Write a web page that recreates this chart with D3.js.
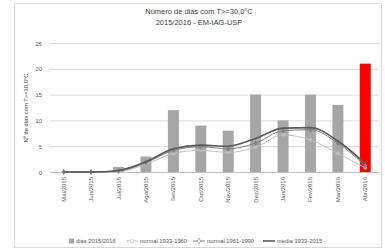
<!DOCTYPE html>
<html>
<head>
<meta charset="utf-8">
<script src="https://cdn.jsdelivr.net/npm/d3@7"></script>
<style>
  body { margin: 0; background: #fff; }
  svg { font-family: "Liberation Sans", Arial, sans-serif; }
</style>
</head>
<body>
<svg width="385" height="252"></svg>
<script>
// data
const months = ["Mai/2015", "Jun/2015", "Jul/2015", "Ago/2015", "Set/2015", "Out/2015",
  "Nov/2015", "Dez/2015", "Jan/2016", "Fev/2016", "Mar/2016", "Abr/2016"];
const dias = [0, 0, 1, 3, 12, 9, 8, 15, 10, 15, 13, 21];
const normal3360 = [0, 0, 0.1, 1.5, 3.6, 4.2, 3.8, 4.8, 7.2, 6.2, 3.6, 0.8];
const normal6190 = [0, 0, 0.2, 1.8, 4.2, 4.9, 4.5, 5.6, 8.0, 8.2, 5.6, 1.2];
const media = [0, 0, 0.3, 2.0, 4.5, 5.2, 5.0, 6.5, 8.5, 8.6, 6.0, 1.6];
const yTicks = [0, 5, 10, 15, 20, 25];

const svg = d3.select("svg");

// chart border
svg.append("rect").attr("x", 14.5).attr("y", 3.5).attr("width", 367).attr("height", 244)
  .attr("fill", "#fff").attr("stroke", "#d9d9d9");

// title
svg.append("text").attr("x", 199).attr("y", 14).attr("text-anchor", "middle")
  .attr("font-size", 7.5).attr("fill", "#404040").text("Número de dias com T>=30,0°C");
svg.append("text").attr("x", 199).attr("y", 25).attr("text-anchor", "middle")
  .attr("font-size", 7.5).attr("fill", "#404040").text("2015/2016 - EM-IAG-USP");

// scales
const x = d3.scaleBand().domain(months).range([50, 379]).paddingInner(0.6).paddingOuter(0.3);
const y = d3.scaleLinear().domain([0, 25]).range([172, 43]);
const cx = d => x(d) + x.bandwidth() / 2;

// grid
svg.append("g").selectAll("line").data(yTicks).enter().append("line")
  .attr("x1", 50).attr("x2", 379)
  .attr("y1", d => y(d) + 0.5).attr("y2", d => y(d) + 0.5)
  .attr("stroke", "#d9d9d9").attr("stroke-width", 1);

// y axis tick labels
svg.append("g").selectAll("text").data(yTicks).enter().append("text")
  .attr("x", 42).attr("y", d => y(d) + 2.5).attr("text-anchor", "end")
  .attr("font-size", 5.8).attr("fill", "#595959").text(d => d);

// y axis title
svg.append("text").attr("transform", "translate(28,108) rotate(-90)")
  .attr("text-anchor", "middle").attr("font-size", 5.8).attr("fill", "#404040")
  .text("Nº de dias com T>=30,0°C");

// bars
svg.append("g").selectAll("rect").data(dias).enter().append("rect")
  .attr("x", (d, i) => x(months[i]))
  .attr("y", d => y(d))
  .attr("width", x.bandwidth())
  .attr("height", d => y(0) - y(d))
  .attr("fill", (d, i) => i === months.length - 1 ? "#ff0000" : "#a6a6a6");

// x axis line
svg.append("line").attr("x1", 50).attr("x2", 379).attr("y1", y(0) + 0.5).attr("y2", y(0) + 0.5)
  .attr("stroke", "#bfbfbf");

// x labels
svg.append("g").selectAll("text").data(months).enter().append("text")
  .attr("transform", d => `translate(${cx(d) + 2},${y(0) + 5}) rotate(-90)`)
  .attr("text-anchor", "end").attr("font-size", 6).attr("fill", "#595959").text(d => d);

// lines
const series = [
  { name: "normal 1933-1960", values: normal3360, color: "#bfbfbf", width: 1, marker: "circle" },
  { name: "normal 1961-1990", values: normal6190, color: "#808080", width: 1, marker: "diamond" },
  { name: "media 1933-2015", values: media, color: "#595959", width: 1.6, marker: null }
];
const line = d3.line().x((d, i) => cx(months[i])).y(d => y(d)).curve(d3.curveMonotoneX);
series.forEach(s => {
  svg.append("path").datum(s.values).attr("d", line)
    .attr("fill", "none").attr("stroke", s.color).attr("stroke-width", s.width);
  if (s.marker) {
    svg.append("g").selectAll("path").data(s.values).enter().append("path")
      .attr("transform", (d, i) => `translate(${cx(months[i])},${y(d)})`)
      .attr("d", d3.symbol().type(s.marker === "circle" ? d3.symbolCircle : d3.symbolDiamond).size(8))
      .attr("fill", s.color).attr("stroke", s.color).attr("stroke-width", 0.5);
  }
});

// legend
const lg = svg.append("g").attr("transform", "translate(0,241)");
lg.append("rect").attr("x", 69).attr("y", -2.5).attr("width", 5).attr("height", 5).attr("fill", "#a6a6a6");
lg.append("text").attr("x", 76).attr("y", 2).attr("font-size", 5.8).attr("fill", "#595959").text("dias 2015/2016");
const legItems = [
  { x: 126, s: series[0] },
  { x: 193, s: series[1] },
  { x: 263, s: series[2] }
];
legItems.forEach(it => {
  lg.append("line").attr("x1", it.x).attr("x2", it.x + 12).attr("y1", 0).attr("y2", 0)
    .attr("stroke", it.s.color).attr("stroke-width", it.s.width);
  if (it.s.marker) {
    lg.append("path").attr("transform", `translate(${it.x + 6},0)`)
      .attr("d", d3.symbol().type(it.s.marker === "circle" ? d3.symbolCircle : d3.symbolDiamond).size(10))
      .attr("fill", "#fff").attr("stroke", it.s.color).attr("stroke-width", 0.6);
  }
  lg.append("text").attr("x", it.x + 14).attr("y", 2).attr("font-size", 5.8)
    .attr("fill", "#595959").text(it.s.name);
});
</script>
</body>
</html>
